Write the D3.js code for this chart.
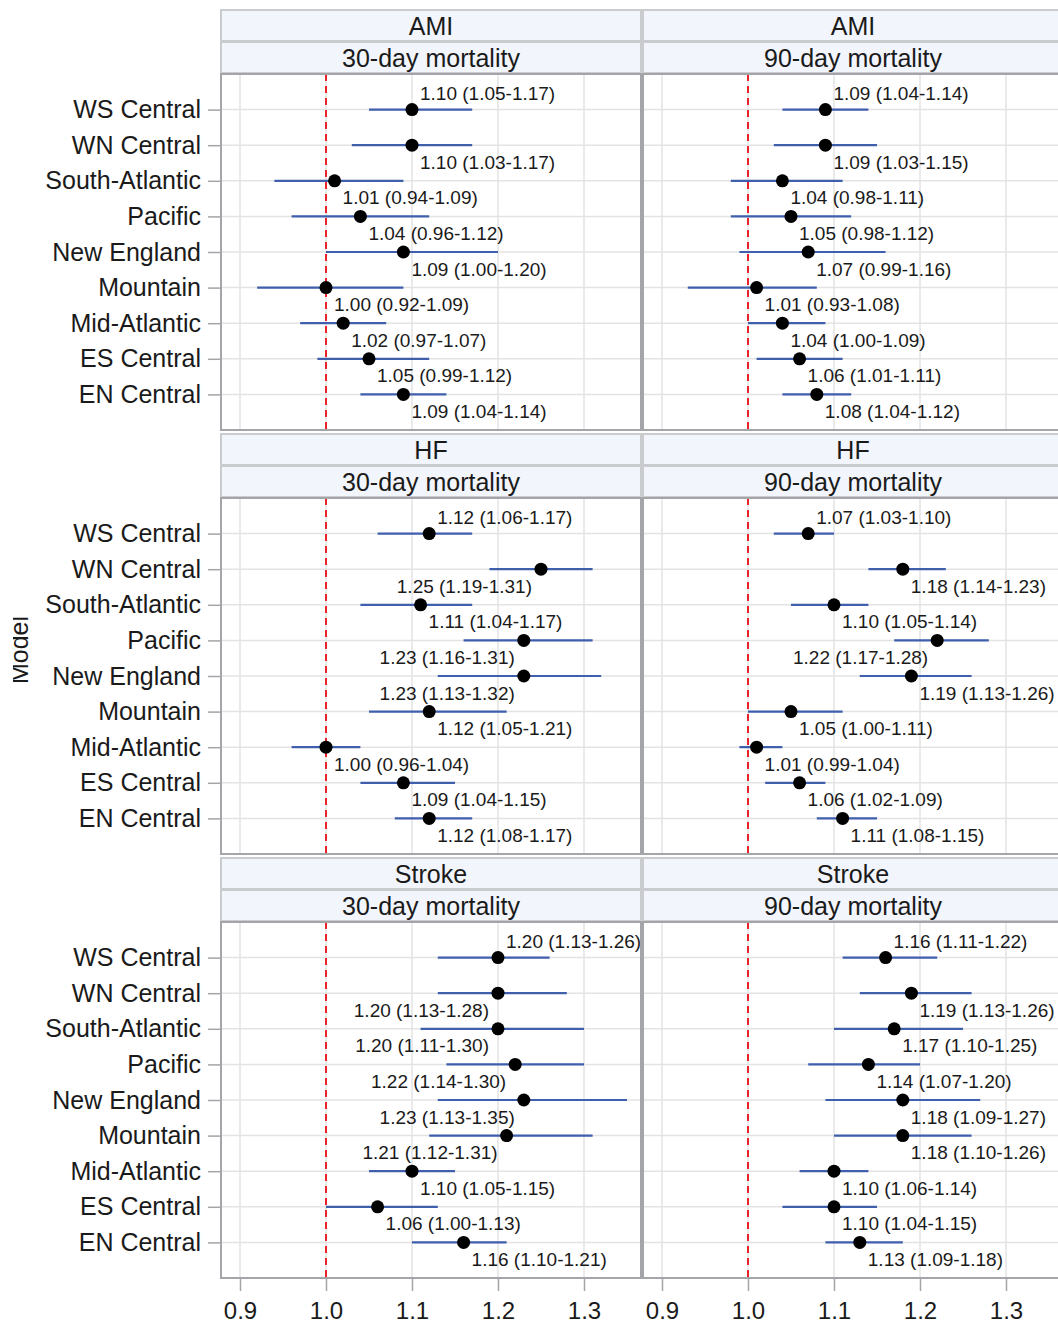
<!DOCTYPE html>
<html>
<head>
<meta charset="utf-8">
<script src="https://cdn.jsdelivr.net/npm/d3@7"></script>
<style>
  body { margin: 0; background: #fff; }
  svg { display: block; }
  text { font-family: "Liberation Sans", Arial, Helvetica, sans-serif; fill: #1a1a1a; }
</style>
</head>
<body>
<svg id="chart" width="1058" height="1325"></svg>
<script>
// Census divisions, top to bottom
const regions = ["WS Central", "WN Central", "South-Atlantic", "Pacific", "New England",
                 "Mountain", "Mid-Atlantic", "ES Central", "EN Central"];
const conditions = ["AMI", "HF", "Stroke"];
const outcomes = ["30-day mortality", "90-day mortality"];
const xTicks = [0.9, 1.0, 1.1, 1.2, 1.3];

// Hazard ratios with 95% confidence limits, one set per panel
const ami30Est  = [1.10, 1.10, 1.01, 1.04, 1.09, 1.00, 1.02, 1.05, 1.09];
const ami30Low  = [1.05, 1.03, 0.94, 0.96, 1.00, 0.92, 0.97, 0.99, 1.04];
const ami30High = [1.17, 1.17, 1.09, 1.12, 1.20, 1.09, 1.07, 1.12, 1.14];

const ami90Est  = [1.09, 1.09, 1.04, 1.05, 1.07, 1.01, 1.04, 1.06, 1.08];
const ami90Low  = [1.04, 1.03, 0.98, 0.98, 0.99, 0.93, 1.00, 1.01, 1.04];
const ami90High = [1.14, 1.15, 1.11, 1.12, 1.16, 1.08, 1.09, 1.11, 1.12];

const hf30Est  = [1.12, 1.25, 1.11, 1.23, 1.23, 1.12, 1.00, 1.09, 1.12];
const hf30Low  = [1.06, 1.19, 1.04, 1.16, 1.13, 1.05, 0.96, 1.04, 1.08];
const hf30High = [1.17, 1.31, 1.17, 1.31, 1.32, 1.21, 1.04, 1.15, 1.17];

const hf90Est  = [1.07, 1.18, 1.10, 1.22, 1.19, 1.05, 1.01, 1.06, 1.11];
const hf90Low  = [1.03, 1.14, 1.05, 1.17, 1.13, 1.00, 0.99, 1.02, 1.08];
const hf90High = [1.10, 1.23, 1.14, 1.28, 1.26, 1.11, 1.04, 1.09, 1.15];

const stroke30Est  = [1.20, 1.20, 1.20, 1.22, 1.23, 1.21, 1.10, 1.06, 1.16];
const stroke30Low  = [1.13, 1.13, 1.11, 1.14, 1.13, 1.12, 1.05, 1.00, 1.10];
const stroke30High = [1.26, 1.28, 1.30, 1.30, 1.35, 1.31, 1.15, 1.13, 1.21];

const stroke90Est  = [1.16, 1.19, 1.17, 1.14, 1.18, 1.18, 1.10, 1.10, 1.13];
const stroke90Low  = [1.11, 1.13, 1.10, 1.07, 1.09, 1.10, 1.06, 1.04, 1.09];
const stroke90High = [1.22, 1.26, 1.25, 1.20, 1.27, 1.26, 1.14, 1.15, 1.18];

const panels = [
  { row: 0, col: 0, est: ami30Est, low: ami30Low, high: ami30High },
  { row: 0, col: 1, est: ami90Est, low: ami90Low, high: ami90High },
  { row: 1, col: 0, est: hf30Est, low: hf30Low, high: hf30High },
  { row: 1, col: 1, est: hf90Est, low: hf90Low, high: hf90High },
  { row: 2, col: 0, est: stroke30Est, low: stroke30Low, high: stroke30High },
  { row: 2, col: 1, est: stroke90Est, low: stroke90Low, high: stroke90High }
];

// ---- layout ----
const svg = d3.select("#chart");
const colLeft = 221, colStep = 422, panelW = 420;
const blockTop = 10, blockStep = 424;
const stripH = 31, stripGap = 1, plotH = 356;
const tickFont = 25, labelFont = 19, xTickFont = 24;

const COLORS = {
  strip: "#f2f5fb", stripLine: "#c9cbcf", frame: "#a3a5a8",
  grid: "#e3e3e3", ci: "#3f5fad", point: "#000", ref: "#e8232b"
};

function xScaleFor(col) {
  const x0 = colLeft + col * colStep;
  return d3.scaleLinear().domain([0.87791, 1.36628]).range([x0, x0 + panelW]);
}
function rowGeom(row) {
  const top = blockTop + row * blockStep;
  return { top, strip2: top + stripH + stripGap, plotTop: top + 2 * (stripH + stripGap), plotBottom: top + 2 * (stripH + stripGap) + plotH };
}

const fmt = d3.format(".2f");

// ---- strips (row/column headers) ----
conditions.forEach((cond, r) => {
  const g = rowGeom(r);
  outcomes.forEach((out, c) => {
    const x = xScaleFor(c);
    const [x0, x1] = x.range();
    [[g.top, cond], [g.strip2, out]].forEach(([y, txt]) => {
      svg.append("rect").attr("x", x0).attr("y", y).attr("width", x1 - x0).attr("height", stripH)
        .attr("fill", COLORS.strip).attr("stroke", COLORS.stripLine).attr("stroke-width", 2);
      svg.append("text").attr("x", (x0 + x1) / 2).attr("y", y + stripH / 2)
        .attr("text-anchor", "middle").attr("dominant-baseline", "central")
        .style("font-size", tickFont + "px").text(txt);
    });
  });
});

// ---- panels ----
panels.forEach(p => {
  const g = rowGeom(p.row);
  const x = xScaleFor(p.col);
  const [x0, x1] = x.range();
  const y = d3.scalePoint().domain(regions).range([g.plotTop, g.plotBottom]).padding(1);
  const pg = svg.append("g");

  pg.append("rect").attr("x", x0).attr("y", g.plotTop).attr("width", x1 - x0).attr("height", plotH)
    .attr("fill", "#fff");

  // grid lines
  pg.selectAll(".vgrid").data(xTicks).join("line")
    .attr("x1", d => x(d)).attr("x2", d => x(d)).attr("y1", g.plotTop).attr("y2", g.plotBottom)
    .attr("stroke", COLORS.grid).attr("stroke-width", 1.5);
  pg.selectAll(".hgrid").data(regions).join("line")
    .attr("x1", x0).attr("x2", x1).attr("y1", d => y(d)).attr("y2", d => y(d))
    .attr("stroke", COLORS.grid).attr("stroke-width", 1.5);

  // reference line at HR = 1
  pg.append("line").attr("x1", x(1)).attr("x2", x(1)).attr("y1", g.plotTop).attr("y2", g.plotBottom)
    .attr("stroke", COLORS.ref).attr("stroke-width", 2).attr("stroke-dasharray", "7,5");

  const rows = regions.map((name, i) => ({ name, i, est: p.est[i], low: p.low[i], high: p.high[i] }));

  // confidence intervals
  pg.selectAll(".ci").data(rows).join("line")
    .attr("x1", d => x(d.low)).attr("x2", d => x(d.high))
    .attr("y1", d => y(d.name)).attr("y2", d => y(d.name))
    .attr("stroke", COLORS.ci).attr("stroke-width", 2.2);

  // point estimates
  pg.selectAll(".pt").data(rows).join("circle")
    .attr("cx", d => x(d.est)).attr("cy", d => y(d.name)).attr("r", 6.5)
    .attr("fill", COLORS.point);

  // value labels: first row above, the rest below; flip to the left when they would run off the panel
  rows.forEach(d => {
    const px = x(d.est), py = y(d.name);
    const t = pg.append("text")
      .attr("dominant-baseline", "central")
      .style("font-size", labelFont + "px")
      .text(`${fmt(d.est)} (${fmt(d.low)}-${fmt(d.high)})`);
    const w = t.node().getComputedTextLength();
    const above = d.i === 0;
    const right = above || px + 8 + w <= x1 - 4;
    t.attr("x", right ? px + 8 : px - 9 - w)
     .attr("y", above ? py - 16 : py + 17);
  });

  // frame
  pg.append("rect").attr("x", x0).attr("y", g.plotTop).attr("width", x1 - x0).attr("height", plotH)
    .attr("fill", "none").attr("stroke", COLORS.frame).attr("stroke-width", 2);

  // region axis on the left column only
  if (p.col === 0) {
    const ax = svg.append("g").attr("transform", `translate(${x0 - 1},0)`)
      .call(d3.axisLeft(y).tickSize(12).tickPadding(7));
    ax.select(".domain").remove();
    ax.selectAll(".tick line").attr("stroke", COLORS.frame).attr("stroke-width", 1.5);
    ax.selectAll(".tick text").style("font-size", tickFont + "px").attr("fill", "#1a1a1a")
      .style("font-family", '"Liberation Sans", Arial, sans-serif');
  }

  // value axis under the bottom row
  if (p.row === conditions.length - 1) {
    const ax = svg.append("g").attr("transform", `translate(0,${g.plotBottom + 1})`)
      .call(d3.axisBottom(x).tickValues(xTicks).tickFormat(d3.format(".1f")).tickSize(12).tickPadding(11));
    ax.select(".domain").remove();
    ax.selectAll(".tick line").attr("stroke", COLORS.frame).attr("stroke-width", 1.5);
    ax.selectAll(".tick text").style("font-size", xTickFont + "px").attr("fill", "#1a1a1a")
      .style("font-family", '"Liberation Sans", Arial, sans-serif');
  }
});

// column divider between the two outcome columns
conditions.forEach((c, r) => {
  const g = rowGeom(r);
  svg.append("line").attr("x1", colLeft + panelW + 1).attr("x2", colLeft + panelW + 1)
    .attr("y1", g.plotTop).attr("y2", g.plotBottom)
    .attr("stroke", COLORS.frame).attr("stroke-width", 3);
});

// y-axis title, trimmed at the left edge
svg.append("defs").append("clipPath").attr("id", "titleClip")
  .append("rect").attr("x", 13).attr("y", 0).attr("width", 60).attr("height", 1325);
svg.append("g").attr("clip-path", "url(#titleClip)")
  .append("text")
  .attr("transform", "translate(28,650) rotate(-90)")
  .attr("text-anchor", "middle")
  .style("font-size", "25px")
  .text("Model");
</script>
</body>
</html>
